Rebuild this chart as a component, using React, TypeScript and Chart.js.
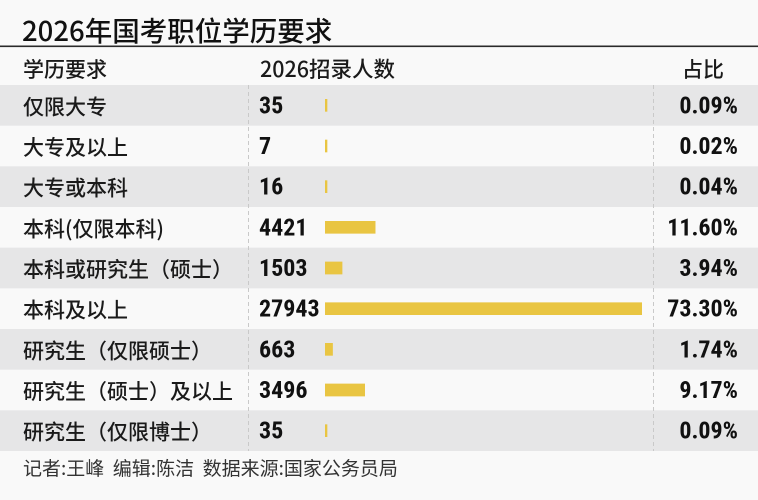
import React, { useEffect, useRef } from "react";
import { Chart, registerables } from "chart.js";

Chart.register(...registerables);

const titleText = "2026年国考职位学历要求";
const headerCategory = "学历要求";
const headerCount = "2026招录人数";
const headerShare = "占比";
const footerText = "记者:王峰  编辑:陈洁  数据来源:国家公务员局";

const categories = [
  "仅限大专",
  "大专及以上",
  "大专或本科",
  "本科(仅限本科)",
  "本科或研究生（硕士）",
  "本科及以上",
  "研究生（仅限硕士）",
  "研究生（硕士）及以上",
  "研究生（仅限博士）",
];
const counts = [35, 7, 16, 4421, 1503, 27943, 663, 3496, 35];
const shares = ["0.09%", "0.02%", "0.04%", "11.60%", "3.94%", "73.30%", "1.74%", "9.17%", "0.09%"];

const CJK = '"Noto Sans CJK SC", "Noto Sans", sans-serif';
const NUM = '"Liberation Sans Narrow", "Roboto Condensed", "Liberation Sans", sans-serif';

const tablePlugin = {
  id: "tablePlugin",
  beforeDatasetsDraw(chart: any) {
    const { ctx, width, height } = chart;
    const y = chart.scales.y;
    const area = chart.chartArea;
    const n = categories.length;
    const rowH = (area.bottom - area.top) / n;
    ctx.save();
    ctx.fillStyle = "#f9f9f9";
    ctx.fillRect(0, 0, width, height);
    for (let i = 0; i < n; i++) {
      const c = y.getPixelForValue(i);
      if (i % 2 === 0) {
        ctx.fillStyle = "#e6e6e7";
        ctx.fillRect(0, c - rowH / 2, width, rowH);
      }
    }
    ctx.fillStyle = "#2a2a2a";
    ctx.fillRect(0, 45.5, width, 1.6);
    ctx.strokeStyle = "#c9c9c9";
    ctx.lineWidth = 1;
    ctx.setLineDash([4, 3]);
    [248.5, 653.5].forEach((x) => {
      ctx.beginPath();
      ctx.moveTo(x, area.top);
      ctx.lineTo(x, area.bottom);
      ctx.stroke();
    });
    ctx.restore();
  },
  afterDraw(chart: any) {
    const { ctx } = chart;
    const y = chart.scales.y;
    ctx.save();
    ctx.fillStyle = "#111";
    ctx.textBaseline = "alphabetic";
    ctx.textAlign = "left";
    ctx.font = `500 27.5px ${CJK}`;
    ctx.fillText(titleText, 22, 41);

    ctx.textBaseline = "middle";
    ctx.font = `500 21px ${CJK}`;
    ctx.fillStyle = "#1a1a1a";
    ctx.fillText(headerCategory, 23, 69);
    ctx.font = `500 21.5px ${CJK}`;
    ctx.fillText(headerCount, 260, 69);
    ctx.textAlign = "center";
    ctx.font = `500 21px ${CJK}`;
    ctx.fillText(headerShare, 703, 69);

    for (let i = 0; i < categories.length; i++) {
      const c = y.getPixelForValue(i) + 1;
      ctx.textAlign = "left";
      ctx.font = `500 21px ${CJK}`;
      ctx.fillStyle = "#1a1a1a";
      ctx.fillText(categories[i], 23, c);
      ctx.font = `bold 24px ${NUM}`;
      ctx.fillStyle = "#111";
      ctx.fillText(String(counts[i]), 259, c + 1);
      ctx.textAlign = "right";
      ctx.fillText(shares[i], 738, c + 1);
    }

    ctx.textAlign = "left";
    ctx.textBaseline = "middle";
    ctx.font = `400 19px ${CJK}`;
    ctx.fillStyle = "#333";
    ctx.fillText(footerText, 23, 468);
    ctx.restore();
  },
};

export default function App() {
  const ref = useRef<HTMLCanvasElement | null>(null);
  useEffect(() => {
    document.body.style.margin = "0";
    const canvas = ref.current;
    if (!canvas) return;
    const chart = new Chart(canvas, {
      type: "bar",
      data: {
        labels: categories,
        datasets: [
          {
            data: counts,
            backgroundColor: "#e9c542",
            borderWidth: 0,
            barThickness: 12,
            minBarLength: 2,
          },
        ],
      },
      options: {
        indexAxis: "y",
        responsive: false,
        animation: false,
        devicePixelRatio: 2,
        layout: { padding: { left: 325, right: 116, top: 85, bottom: 49 } },
        plugins: { legend: { display: false }, tooltip: { enabled: false } },
        scales: {
          x: { display: false, min: 0, max: 27943 },
          y: { display: false },
        },
      },
      plugins: [tablePlugin],
    });
    return () => chart.destroy();
  }, []);
  return (
    <div style={{ width: 758, height: 500 }}>
      <canvas ref={ref} width={758} height={500} style={{ width: 758, height: 500, display: "block" }} />
    </div>
  );
}
